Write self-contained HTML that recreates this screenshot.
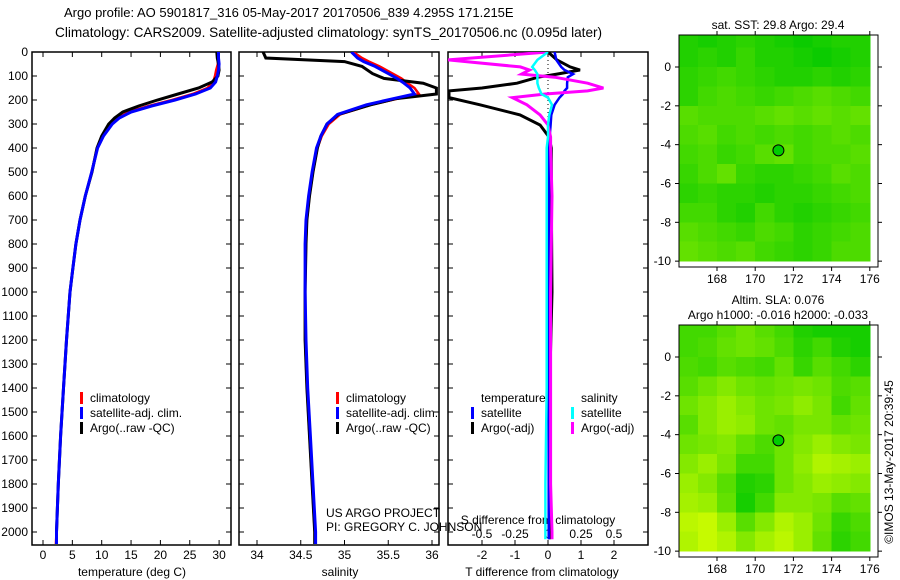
<!DOCTYPE html>
<html><head><meta charset="utf-8">
<style>
html,body{margin:0;padding:0;background:#fff;}
svg{display:block;font-family:"Liberation Sans",sans-serif;}
text{font-size:12px;fill:#000;}
</style></head>
<body>
<svg id="fig" width="900" height="580" viewBox="0 0 900 580" xmlns="http://www.w3.org/2000/svg">
<text x="64" y="17" style="font-size:13px">Argo profile: AO 5901817_316 05-May-2017 20170506_839 4.295S 171.215E</text>
<text x="55" y="37" style="font-size:13.6px">Climatology: CARS2009. Satellite-adjusted climatology: synTS_20170506.nc (0.095d later)</text>
<g id="g"></g>
<text transform="translate(893,462) rotate(-90)" text-anchor="middle">©IMOS 13-May-2017 20:39:45</text>
</svg>
<script>
// ---- data ----
const tDepths=[0,25,50,75,100,125,150,175,200,225,250,275,300,350,400,500,600,700,800,900,1000,1200,1400,1600,1800,2000,2050];
const tArgo=[29.6,29.7,29.9,30.0,29.8,28.8,26.5,23.0,19.5,16.3,13.6,12.2,11.2,10.0,9.2,8.35,7.2,6.3,5.6,5.1,4.6,4.0,3.5,3.0,2.6,2.3,2.3];
const tClim=[29.8,29.8,29.8,29.5,29.3,29.0,28.0,25.5,22.0,18.0,14.5,12.8,11.6,10.2,9.2,8.3,7.2,6.3,5.6,5.1,4.6,4.0,3.5,3.0,2.6,2.3,2.2];
const tSat=[29.9,29.9,30.0,29.9,29.7,29.4,28.5,26.0,22.5,18.5,15.0,13.0,11.8,10.3,9.3,8.3,7.2,6.3,5.6,5.1,4.6,4.0,3.5,3.0,2.6,2.3,2.3];
const sDepths=[0,25,40,60,90,110,130,150,175,195,220,260,300,350,400,500,600,700,800,1000,1200,1400,1600,1800,2000,2050];
const sArgo=[34.07,34.1,35.0,35.2,35.32,35.45,35.9,36.05,36.05,35.58,35.3,34.93,34.8,34.73,34.69,34.64,34.6,34.57,34.56,34.55,34.55,34.57,34.6,34.63,34.66,34.66];
const sClim=[35.1,35.2,35.28,35.4,35.55,35.65,35.72,35.8,35.85,35.6,35.3,34.95,34.82,34.74,34.69,34.64,34.6,34.57,34.56,34.55,34.55,34.57,34.6,34.63,34.66,34.66];
const sSat=[35.08,35.15,35.22,35.35,35.5,35.6,35.68,35.75,35.8,35.55,35.25,34.92,34.8,34.73,34.68,34.63,34.59,34.56,34.55,34.55,34.56,34.58,34.61,34.64,34.67,34.67];
const dDepths=[0,33,62,75,92,105,130,150,162,175,190,220,262,304,354,400,600,1000,1400,1800,2000,2030];
const dTArgo=[0,0.27,0.67,0.97,0.27,-0.3,-0.94,-2.0,-3,-3,-3,-2.06,-0.85,-0.24,0.03,0.1,0.1,0.12,0.05,0.05,0.05,0.05];
const dTSat=[0.2,0.25,0.4,0.5,0.76,0.6,0.58,0.58,0.5,0.45,0.35,0.2,0.1,0.08,0.05,0.03,0.03,0.02,0.02,0.02,0.02,0.02];
const dSArgo=[0,-0.76,-0.21,-0.14,-0.2,0.05,0.3,0.42,0.3,-0.02,-0.27,-0.16,-0.06,0,0.02,0.02,0.03,0.02,0.02,0.02,0.03,0.03];
const dSSat=[0,-0.08,-0.12,-0.1,-0.08,-0.08,-0.08,-0.07,-0.06,-0.05,0.0,0.03,0.01,0.0,0,-0.01,-0.01,-0.01,-0.01,-0.02,-0.02,-0.02];
const depthTicks=[0,100,200,300,400,500,600,700,800,900,1000,1100,1200,1300,1400,1500,1600,1700,1800,1900,2000];
const tTicks=[0,5,10,15,20,25,30];
const sTicks=["34","34.5","35","35.5","36"];
const dTTicks=["-2","-1","0","1","2"];
const dSTicks=["-0.5","-0.25","0","0.25","0.5"];
const lonTicks=[168,170,172,174,176];
const latTicks=[0,-2,-4,-6,-8,-10];
const sstGrid=[
[0.15,0.1,0.15,0.2,0.15,0.1,0.05,0.1,0.15,0.15],
[0.15,0.2,0.15,0.25,0.15,0.15,0.1,0.05,0.1,0.15],
[0.2,0.25,0.3,0.25,0.2,0.15,0.15,0.2,0.15,0.2],
[0.2,0.3,0.35,0.3,0.25,0.3,0.35,0.4,0.35,0.3],
[0.4,0.35,0.35,0.35,0.4,0.45,0.4,0.45,0.4,0.45],
[0.35,0.4,0.3,0.35,0.3,0.35,0.3,0.35,0.4,0.35],
[0.3,0.35,0.25,0.3,0.4,0.45,0.3,0.35,0.35,0.4],
[0.25,0.35,0.45,0.25,0.2,0.2,0.25,0.3,0.4,0.35],
[0.2,0.25,0.2,0.2,0.15,0.2,0.2,0.25,0.3,0.35],
[0.3,0.3,0.2,0.15,0.3,0.2,0.15,0.2,0.25,0.3],
[0.4,0.35,0.3,0.25,0.35,0.3,0.2,0.25,0.3,0.35],
[0.45,0.4,0.35,0.4,0.3,0.25,0.2,0.25,0.35,0.35]];
const slaGrid=[
[0.3,0.3,0.4,0.5,0.4,0.3,0.15,0.1,0.1,0.1],
[0.3,0.35,0.45,0.5,0.45,0.35,0.2,0.3,0.15,0.1],
[0.35,0.3,0.4,0.35,0.3,0.45,0.25,0.4,0.3,0.2],
[0.4,0.5,0.6,0.5,0.45,0.5,0.55,0.5,0.35,0.4],
[0.5,0.6,0.7,0.6,0.5,0.55,0.65,0.55,0.3,0.45],
[0.4,0.6,0.7,0.65,0.5,0.45,0.55,0.55,0.45,0.5],
[0.5,0.55,0.6,0.45,0.35,0.5,0.6,0.7,0.6,0.55],
[0.6,0.7,0.55,0.3,0.3,0.5,0.65,0.8,0.75,0.7],
[0.7,0.6,0.4,0.15,0.2,0.5,0.6,0.7,0.65,0.6],
[0.75,0.7,0.45,0.1,0.3,0.6,0.6,0.55,0.4,0.45],
[0.85,0.9,0.7,0.4,0.6,0.8,0.7,0.5,0.25,0.35],
[0.8,0.9,0.8,0.6,0.75,0.85,0.7,0.45,0.2,0.3]];
const argoLon=171.215, argoLat=-4.295;

// ---- helpers ----
const NS="http://www.w3.org/2000/svg";
const G=document.getElementById('g');
function mk(tag,attrs,parent){const e=document.createElementNS(NS,tag);for(const k in attrs)e.setAttribute(k,attrs[k]);(parent||G).appendChild(e);return e;}
const TOP=52, BOT=545;
const yD=d=>TOP+d*0.24;

function panel(x0,x1,name,clipId){
  const g=mk('g',{});
  
  
  const cp=mk('clipPath',{id:clipId},g);
  mk('rect',{x:x0,y:TOP,width:x1-x0,height:BOT-TOP},cp);
  mk('rect',{x:x0,y:TOP,width:x1-x0,height:BOT-TOP,fill:'#fff',stroke:'#000','stroke-width':1.5},g);
  depthTicks.forEach(d=>{
    const y=yD(d);
    const t1=mk('line',{x1:x0,x2:x0+5,y1:y,y2:y,stroke:'#000'},g);
    
    
    mk('line',{x1:x1-5,x2:x1,y1:y,y2:y,stroke:'#000'},g);
  });
  return g;
}
function series(g,xs,ds,xf,color,w,clipId,name){
  const pts=ds.map((d,i)=>xf(xs[i]).toFixed(1)+','+yD(d).toFixed(1)).join(' ');
  const p=mk('polyline',{points:pts,fill:'none',stroke:color,'stroke-width':w,'clip-path':'url(#'+clipId+')','stroke-linejoin':'miter'},g);
  
  
}
function xTicks(g,vals,xf,labelY,name){
  vals.forEach(v=>{
    const x=xf(+v);
    mk('line',{x1:x,x2:x,y1:TOP,y2:TOP+5,stroke:'#000'},g);
    mk('line',{x1:x,x2:x,y1:BOT-5,y2:BOT,stroke:'#000'},g);
    const t=mk('text',{x:x,y:labelY,'text-anchor':'middle'},g);
    t.textContent=String(v);
    
    
  });
}
function legend(g,x,y,items){
  items.forEach((it,i)=>{
    const yy=y+i*15;
    if(it.c) mk('rect',{x:x,y:yy-10,width:3,height:12,fill:it.c},g);
    const t=mk('text',{x:x+10,y:yy},g);
    t.textContent=it.l;
    
    
  });
}

// ---- panel 1: temperature ----
const xT=t=>43+t*5.87;
const p1=panel(32,231,'temperature-panel','c1');
depthTicks.forEach(d=>{const t=mk('text',{x:28,y:yD(d)+4,'text-anchor':'end'},p1);t.textContent=d;

});
xTicks(p1,tTicks,xT,559,'temperature-tick-label');
{const t=mk('text',{x:132,y:576,'text-anchor':'middle'},p1);t.textContent='temperature (deg C)';

}
series(p1,tClim,tDepths,xT,'#ff0000',2.5,'c1','temp-climatology-line');
series(p1,tArgo,tDepths,xT,'#000',3,'c1','temp-argo-line');
series(p1,tSat,tDepths,xT,'#0000ff',3,'c1','temp-satellite-line');
legend(p1,80,402,[{c:'#f00',l:'climatology'},{c:'#00f',l:'satellite-adj. clim.'},{c:'#000',l:'Argo(..raw -QC)'}]);

// ---- panel 2: salinity ----
const xS=s=>257+(s-34)*87.5;
const p2=panel(239,439,'salinity-panel','c2');
xTicks(p2,sTicks,xS,559,'salinity-tick-label');
{const t=mk('text',{x:340,y:576,'text-anchor':'middle'},p2);t.textContent='salinity';

}
series(p2,sClim,sDepths,xS,'#ff0000',2.5,'c2','sal-climatology-line');
series(p2,sArgo,sDepths,xS,'#000',3,'c2','sal-argo-line');
series(p2,sSat,sDepths,xS,'#0000ff',3,'c2','sal-satellite-line');
legend(p2,336,402,[{c:'#f00',l:'climatology'},{c:'#00f',l:'satellite-adj. clim.'},{c:'#000',l:'Argo(..raw -QC)'}]);

// ---- panel 3: differences ----
const xDT=t=>548+t*33, xDS=s=>548+s*132;
const p3=panel(448,648,'difference-panel','c3');
mk('line',{x1:548,x2:548,y1:TOP,y2:yD(400),stroke:'#000','stroke-dasharray':'1,3'},p3);
xTicks(p3,dTTicks,xDT,559,'t-diff-tick-label');
dSTicks.forEach(v=>{const t=mk('text',{x:xDS(+v),y:538,'text-anchor':'middle'},p3);t.textContent=v;

});
{const t=mk('text',{x:538,y:524,'text-anchor':'middle'},p3);t.textContent='S difference from climatology';

}
{const t=mk('text',{x:542,y:576,'text-anchor':'middle'},p3);t.textContent='T difference from climatology';

}
series(p3,dTArgo,dDepths,xDT,'#000',3,'c3','t-diff-argo-line');
series(p3,dTSat,dDepths,xDT,'#0000ff',2.5,'c3','t-diff-satellite-line');
series(p3,dSArgo,dDepths,xDS,'#ff00ff',3,'c3','s-diff-argo-line');
series(p3,dSSat,dDepths,xDS,'#00ffff',2.5,'c3','s-diff-satellite-line');
legend(p3,471,402,[{l:'temperature'},{c:'#00f',l:'satellite'},{c:'#000',l:'Argo(-adj)'}]);
legend(p3,571,402,[{l:'salinity'},{c:'#0ff',l:'satellite'},{c:'#f0f',l:'Argo(-adj)'}]);
{const t=mk('text',{x:326,y:517},G);t.textContent='US ARGO PROJECT';


const t2=mk('text',{x:326,y:531},G);t2.textContent='PI: GREGORY C. JOHNSON';

}

// ---- maps ----
function col(v){ // 0 dark green -> 1 yellow
  const r=Math.round(220*v), gg=Math.round(200+55*v);
  return 'rgb('+r+','+gg+',0)';
}
function map(y0,y1,lat0y,grid,name,titleLines){
  const x0=679,x1=878;
  const xL=l=>717+(l-168)*19.1;
  const yL=l=>lat0y-l*((y1-y0)/11.95);
  const g=mk('g',{});
  
  
  const cid=name+'-clip';
  const cp=mk('clipPath',{id:cid},g);
  mk('rect',{x:x0,y:y0,width:x1-x0,height:y1-y0},cp);
  const cg=mk('g',{'clip-path':'url(#'+cid+')','shape-rendering':'crispEdges'},g);
  grid.forEach((row,r)=>row.forEach((v,c)=>{
    const lon=166+c, lat=2-r;
    const cell=mk('rect',{x:xL(lon),y:yL(lat),width:19.6,height:(y1-y0)/11.95+0.6,fill:col(v)},cg);
    
    
  }));
  mk('rect',{x:x0,y:y0,width:x1-x0,height:y1-y0,fill:'none',stroke:'#000'},g);
  lonTicks.forEach(l=>{const x=xL(l);mk('line',{x1:x,x2:x,y1:y0-4,y2:y0,stroke:'#000'},g);mk('line',{x1:x,x2:x,y1:y1,y2:y1+4,stroke:'#000'},g);
    const t=mk('text',{x:x,y:y1+16,'text-anchor':'middle'},g);t.textContent=l;
    
    });
  latTicks.forEach(l=>{const y=yL(l);mk('line',{x1:x0-4,x2:x0,y1:y,y2:y,stroke:'#000'},g);mk('line',{x1:x1,x2:x1+4,y1:y,y2:y,stroke:'#000'},g);
    const t=mk('text',{x:x0-8,y:y+4,'text-anchor':'end'},g);t.textContent=l;
    
    });
  const m=mk('circle',{cx:xL(argoLon),cy:yL(argoLat),r:5.5,fill:'#00cc00',stroke:'#000'},g);
  
  
  titleLines.forEach((s,i)=>{const t=mk('text',{x:778,y:y0-6-(titleLines.length-1-i)*15,'text-anchor':'middle'},g);t.textContent=s;
    
    });
}
map(35,267,67,sstGrid,'sst-map',['sat. SST: 29.8 Argo: 29.4']);
map(325,557,357,slaGrid,'sla-map',['Altim. SLA: 0.076','Argo h1000: -0.016 h2000: -0.033']);
</script>
</body></html>
